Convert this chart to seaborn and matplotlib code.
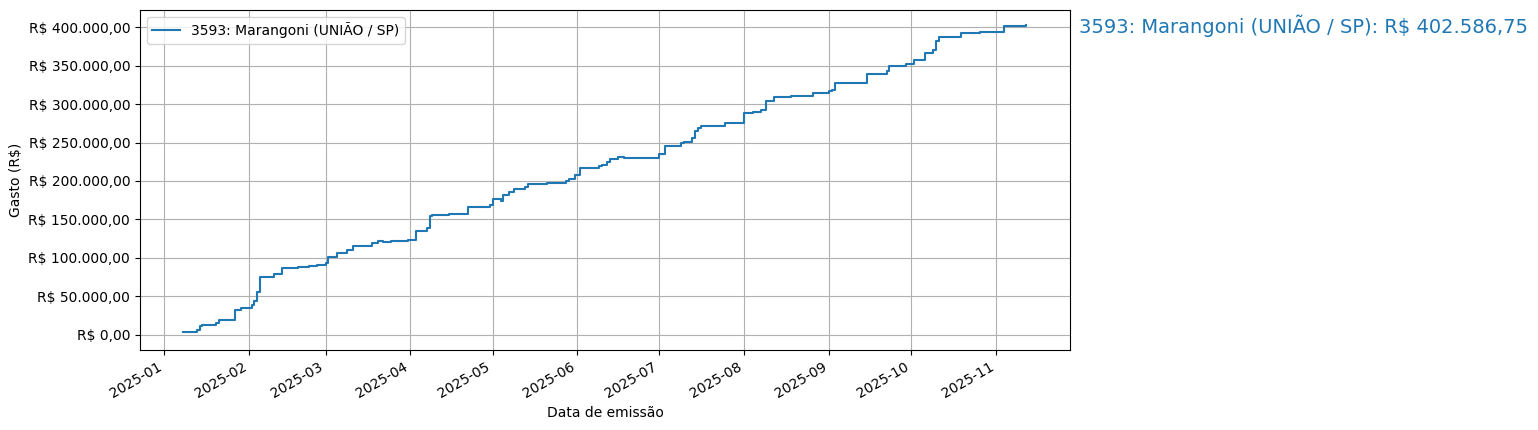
import numpy as np
import pandas as pd
import matplotlib
matplotlib.use("Agg")
import matplotlib.pyplot as plt
import matplotlib.dates as mdates
from matplotlib.ticker import FuncFormatter
import seaborn as sns

SERIES_NAME = "3593: Marangoni (UNIÃO / SP)"

# step points: emission date -> cumulative spend (R$)
DATES = [
    "2025-01-08", "2025-01-13", "2025-01-14", "2025-01-15", "2025-01-20", "2025-01-21",
    "2025-01-27", "2025-01-29", "2025-02-02", "2025-02-03", "2025-02-04", "2025-02-05",
    "2025-02-10", "2025-02-13", "2025-02-19", "2025-02-23", "2025-02-26", "2025-03-01",
    "2025-03-02", "2025-03-05", "2025-03-09", "2025-03-11", "2025-03-18", "2025-03-20",
    "2025-03-22", "2025-03-25", "2025-03-31", "2025-04-03", "2025-04-07", "2025-04-08",
    "2025-04-09", "2025-04-15", "2025-04-22", "2025-04-30", "2025-05-01", "2025-05-04",
    "2025-05-05", "2025-05-07", "2025-05-09", "2025-05-13", "2025-05-14", "2025-05-21",
    "2025-05-28", "2025-05-29", "2025-05-31", "2025-06-02", "2025-06-09", "2025-06-10",
    "2025-06-12", "2025-06-13", "2025-06-16", "2025-06-18", "2025-07-01", "2025-07-03",
    "2025-07-09", "2025-07-10", "2025-07-13", "2025-07-14", "2025-07-15", "2025-07-16",
    "2025-07-25", "2025-08-01", "2025-08-04", "2025-08-07", "2025-08-09", "2025-08-12",
    "2025-08-18", "2025-08-26", "2025-09-01", "2025-09-02", "2025-09-03", "2025-09-15",
    "2025-09-22", "2025-09-23", "2025-09-29", "2025-10-02", "2025-10-06", "2025-10-09",
    "2025-10-10", "2025-10-11", "2025-10-19", "2025-10-26", "2025-11-04", "2025-11-05",
    "2025-11-12",
]
GASTO_ACUM = [
    3500, 6500, 10800, 12600, 15200, 18600,
    32000, 34000, 39000, 43800, 55500, 75000,
    79300, 86700, 88000, 89300, 90600, 92800,
    101000, 106000, 109700, 115300, 119200, 121800,
    120500, 121800, 123600, 134800, 138300, 154400,
    156200, 157500, 165700, 168300, 176500, 174500,
    182000, 185000, 189400, 191600, 196300, 197200,
    200200, 202400, 207100, 216600, 219700, 221000,
    224800, 229200, 231800, 230500, 235200, 246000,
    249900, 251200, 256500, 265100, 269400, 271600,
    275000, 287900, 289700, 292200, 303900, 309000,
    310300, 314200, 316800, 319000, 327600, 339600,
    342700, 349100, 351700, 356900, 366400, 370700,
    382700, 387900, 393100, 394400, 401500, 402300,
    402586.75,
]


def brl(v, pos=None):
    s = f"{v:,.2f}".replace(",", "X").replace(".", ",").replace("X", ".")
    return f"R$ {s}"


df = pd.DataFrame({"Data": pd.to_datetime(DATES), "Gasto": GASTO_ACUM})

fig, ax = plt.subplots(figsize=(15.38, 4.3), dpi=100)

sns.lineplot(data=df, x="Data", y="Gasto", drawstyle="steps-post",
             color="tab:blue", label=SERIES_NAME, ax=ax)

ax.yaxis.set_major_formatter(FuncFormatter(brl))
ax.set_ylim(-20100, 422700)
ax.xaxis.set_major_locator(mdates.MonthLocator())
ax.xaxis.set_major_formatter(mdates.DateFormatter("%Y-%m"))
ax.set_xlim(pd.Timestamp("2024-12-23 04:00"), pd.Timestamp("2025-11-28 04:00"))
ax.grid(True)
ax.set_axisbelow(True)
ax.set_xlabel("Data de emissão")
ax.set_ylabel("Gasto (R$)")
ax.legend(loc="upper left")
fig.autofmt_xdate()
fig.subplots_adjust(left=0.091, right=0.696, top=0.977, bottom=0.186)

total = GASTO_ACUM[-1]
ax.annotate(f"{SERIES_NAME}: {brl(total)}", xy=(1, total),
            xycoords=("axes fraction", "data"), xytext=(6, 0),
            textcoords="offset points", va="center", ha="left",
            fontsize=14, color="tab:blue", annotation_clip=False)

fig.savefig("out.png", dpi=100)
